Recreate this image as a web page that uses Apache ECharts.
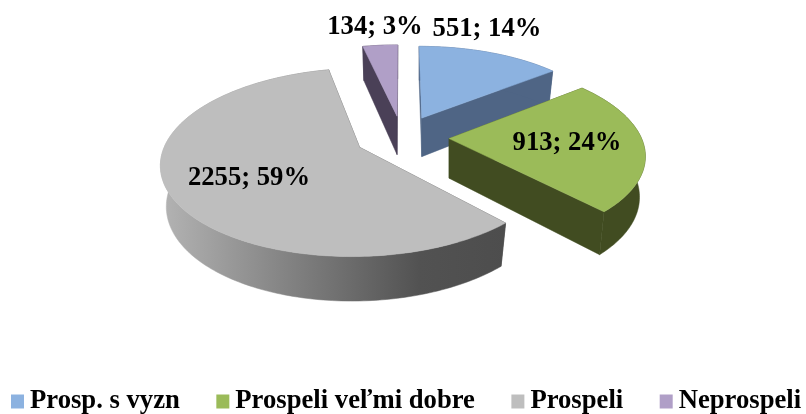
<!DOCTYPE html>
<html>
<head>
<meta charset="utf-8">
<style>
  html, body { margin: 0; padding: 0; background: #fff; }
  #chart { width: 806px; height: 414px; }
</style>
<script src="https://cdn.jsdelivr.net/npm/echarts@6/dist/echarts.min.js"></script>
</head>
<body>
<div id="chart"></div>
<script>
const categories = ['Prosp. s vyzn', 'Prospeli ve\u013Emi dobre', 'Prospeli', 'Neprospeli'];
const values = [551, 913, 2255, 134];

const topColors = ['#8cb2e0', '#9bbb59', '#bebebe', '#b09fc7'];
const wallColors = ['#4f6585', '#414c21', '#4d4d4d', '#4a4057'];
const labelSpots = [[487, 29], [567, 143], [249, 178], [375, 27]];

const FONT = 'bold 26.67px "Liberation Serif", "Times New Roman", serif';

// tilted disc with a bit of perspective, u to the right, v toward the viewer
const cx = 402, cy = 137, radiusX = 192, radiusY = 88.5, persp = 0.157, explode = 0.245;

const total = values.reduce((a, b) => a + b, 0);

function project(u, v, bottom, ou) {
  const p = 1 / (1 - persp * v);
  // bottom rim is a little narrower than the top one
  const ub = bottom ? ou + (u - ou) * 0.97 : u;
  return [
    cx + radiusX * ub * p,
    cy + radiusY * v * p + (bottom ? 39.5 + 4.5 * v : 0)
  ];
}

function sliceFaces(i) {
  let before = 0;
  for (let k = 0; k < i; k++) before += values[k];
  const a0 = before / total * Math.PI * 2;
  const a1 = (before + values[i]) / total * Math.PI * 2;
  const mid = (a0 + a1) / 2;
  const ou = explode * Math.sin(mid), ov = -explode * Math.cos(mid);
  const rim = [];
  const steps = Math.max(4, Math.ceil((a1 - a0) / 0.02));
  for (let n = 0; n <= steps; n++) {
    const a = a0 + (a1 - a0) * n / steps;
    rim.push([ou + Math.sin(a), ov - Math.cos(a)]);
  }
  const top = rim.map(q => project(q[0], q[1], false, ou));
  const bot = rim.map(q => project(q[0], q[1], true, ou));
  const apexTop = project(ou, ov, false, ou);
  const apexBot = project(ou, ov, true, ou);
  return {
    top: [apexTop].concat(top),
    wall: top.concat(bot.slice().reverse()),
    edgeA: [apexTop, top[0], bot[0], apexBot],
    edgeB: [apexTop, top[top.length - 1], bot[bot.length - 1], apexBot]
  };
}

function renderSlice(params) {
  const i = params.seriesIndex;
  const f = sliceFaces(i);
  const wallFill = i === 2
    ? new echarts.graphic.LinearGradient(0, 0, 1, 0, [
        { offset: 0, color: '#b4b4b4' },
        { offset: 0.35, color: '#858585' },
        { offset: 0.75, color: '#525252' },
        { offset: 1, color: '#4d4d4d' }
      ])
    : wallColors[i];
  const poly = (points, fill) => ({
    type: 'polygon',
    shape: { points: points },
    style: { fill: fill, stroke: fill, lineWidth: 0.5 }
  });
  return {
    type: 'group',
    silent: true,
    children: [
      poly(f.edgeA, wallColors[i]),
      poly(f.edgeB, wallColors[i]),
      poly(f.wall, wallFill),
      poly(f.top, topColors[i]),
      {
        type: 'text',
        style: {
          text: values[i] + '; ' + Math.round(values[i] / total * 100) + '%',
          x: labelSpots[i][0],
          y: labelSpots[i][1],
          fill: '#000',
          font: FONT,
          align: 'center',
          verticalAlign: 'middle'
        }
      }
    ]
  };
}

const chart = echarts.init(document.getElementById('chart'));
chart.setOption({
  animation: false,
  legend: {
    left: 11,
    top: 388,
    width: 795,
    padding: 0,
    icon: 'rect',
    itemWidth: 13,
    itemHeight: 14,
    itemGap: 36.5,
    selectedMode: false,
    data: categories,
    textStyle: {
      color: '#000',
      fontFamily: '"Liberation Serif", "Times New Roman", serif',
      fontWeight: 'bold',
      fontSize: 26.67,
      padding: [0, 0, 0, 1]
    }
  },
  series: categories.map((name, i) => ({
    type: 'custom',
    name: name,
    coordinateSystem: 'none',
    itemStyle: { color: topColors[i] },
    renderItem: renderSlice,
    data: [[values[i]]]
  }))
});
</script>
</body>
</html>
